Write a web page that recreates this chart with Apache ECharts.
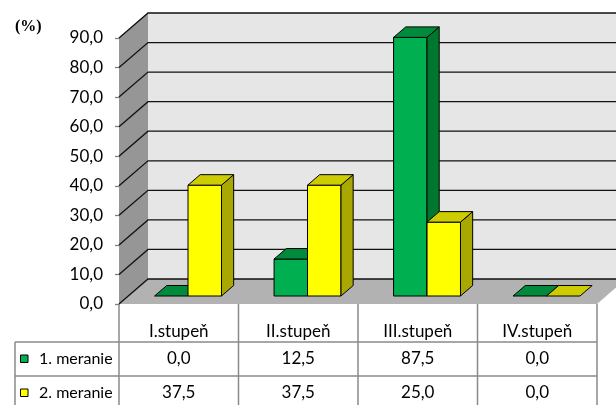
<!DOCTYPE html>
<html>
<head>
<meta charset="utf-8">
<script src="https://cdn.jsdelivr.net/npm/echarts@6/dist/echarts.min.js"></script>
<style>
  html, body { margin: 0; padding: 0; background: #ffffff; }
  #chart { width: 616px; height: 405px; }
</style>
</head>
<body>
<div id="chart"></div>
<script>
// Data
const categories = ['I.stupeň', 'II.stupeň', 'III.stupeň', 'IV.stupeň'];
const seriesNames = ['1. meranie', '2. meranie'];
const meranie1 = [0.0, 12.5, 87.5, 0.0];
const meranie2 = [37.5, 37.5, 25.0, 0.0];
const yTicks = [0, 10, 20, 30, 40, 50, 60, 70, 80, 90];
const yUnit = '(%)';

// Styling / 3D projection settings
const FONT = 'Lato';
const FS = 17;
const WALL_DX = 29, WALL_DY = -25;      // depth of the walls in pixels
const BAR_F0 = 0.32, BAR_F1 = 0.74;     // front/back depth fraction of the bars
const BAR_W = 0.28;                     // bar width as a fraction of the category band
const faces = [
  { front: '#00b050', top: '#008a3c', side: '#00772f' },
  { front: '#ffff00', top: '#cccc00', side: '#a8a800' }
];
const seriesData = [meranie1, meranie2];

const fmt = v => v.toFixed(1).replace('.', ',');

// Back wall, side wall, floor and gridlines
function renderWalls(params, api) {
  const cs = params.coordSys;
  const L = cs.x, R = cs.x + cs.width, T = cs.y, B = cs.y + cs.height;
  const children = [
    { type: 'polygon', shape: { points: [[L + WALL_DX, T + WALL_DY], [R + WALL_DX + 40, T + WALL_DY], [R + WALL_DX + 40, B + WALL_DY], [L + WALL_DX, B + WALL_DY]] },
      style: { fill: '#e6e6e6', stroke: null } },
    { type: 'polygon', shape: { points: [[L, T], [L + WALL_DX, T + WALL_DY], [L + WALL_DX, B + WALL_DY], [L, B]] },
      style: { fill: '#969696', stroke: null } },
    { type: 'polygon', shape: { points: [[L, B], [L + WALL_DX, B + WALL_DY], [R + WALL_DX, B + WALL_DY], [R, B]] },
      style: { fill: '#b2b2b2', stroke: null } }
  ];
  yTicks.forEach(t => {
    const y = api.coord([0, t])[1];
    children.push({
      type: 'polyline',
      shape: { points: [[L, y], [L + WALL_DX, y + WALL_DY], [R + WALL_DX + 40, y + WALL_DY]] },
      style: { stroke: '#111111', lineWidth: 1.3, fill: null }
    });
  });
  return { type: 'group', children: children };
}

// 3D column: front, top and side faces
function makeBarRenderer(k) {
  const col = faces[k];
  return function (params, api) {
    const cat = api.value(0), v = api.value(1);
    const base = api.coord([cat, 0]);
    const topP = api.coord([cat, v]);
    const band = api.size([1, 0])[0];
    const w = band * BAR_W;
    const ax = WALL_DX * BAR_F0, ay = WALL_DY * BAR_F0;
    const dx = WALL_DX * (BAR_F1 - BAR_F0), dy = WALL_DY * (BAR_F1 - BAR_F0);
    const X0 = base[0] + (k === 0 ? -w : 0) + ax;
    const X1 = X0 + w;
    const yb = base[1] + ay, yt = topP[1] + ay;
    const stroke = { stroke: '#000000', lineWidth: 1, lineJoin: 'round' };
    const children = [];
    if (yb - yt > 0.5) {
      children.push({ type: 'polygon', shape: { points: [[X0, yt], [X1, yt], [X1, yb], [X0, yb]] },
        style: Object.assign({ fill: col.front }, stroke) });
      children.push({ type: 'polygon', shape: { points: [[X1, yt], [X1 + dx, yt + dy], [X1 + dx, yb + dy], [X1, yb]] },
        style: Object.assign({ fill: col.side }, stroke) });
    }
    children.push({ type: 'polygon', shape: { points: [[X0, yt], [X0 + dx, yt + dy], [X1 + dx, yt + dy], [X1, yt]] },
      style: Object.assign({ fill: col.top }, stroke) });
    return { type: 'group', children: children };
  };
}

const chart = echarts.init(document.getElementById('chart'), null, { renderer: 'canvas' });

const option = {
  animation: false,
  backgroundColor: '#ffffff',
  grid: { left: 119, right: 19, top: 38, bottom: 101 },
  xAxis: {
    type: 'category',
    data: categories,
    axisLine: { show: false },
    axisTick: { show: false },
    axisLabel: { margin: 19, fontFamily: FONT, fontSize: FS, color: '#000000' }
  },
  yAxis: {
    type: 'value',
    min: 0, max: 90, interval: 10,
    splitLine: { show: false },
    axisLine: { show: false },
    axisTick: { show: true, length: 4, lineStyle: { color: '#7f7f7f', width: 1.3 } },
    axisLabel: {
      margin: 16, fontFamily: FONT, fontSize: FS, color: '#000000',
      padding: [4, 0, 0, 0],
      formatter: v => fmt(v)
    }
  },
  series: [
    { type: 'custom', name: 'walls', renderItem: renderWalls, data: [[0, 0]], z: 1, silent: true },
    { type: 'custom', name: seriesNames[0], renderItem: makeBarRenderer(0),
      data: meranie1.map((v, i) => [i, v]), z: 2 },
    { type: 'custom', name: seriesNames[1], renderItem: makeBarRenderer(1),
      data: meranie2.map((v, i) => [i, v]), z: 3 }
  ]
};
chart.setOption(option);

// Data table below the plot
const centers = categories.map((c, i) => chart.convertToPixel({ xAxisIndex: 0 }, i));
const band = centers[1] - centers[0];
const floorY = chart.convertToPixel({ yAxisIndex: 0 }, 0);
const leftX = centers[0] - band / 2;
const rightX = centers[centers.length - 1] + band / 2;
const legendX = 15;
const headerBottom = floorY + 38;
const rowH = 34;
const lineStyle = { stroke: '#8a8a8a', lineWidth: 1.5 };

const g = [];
// vertical lines
for (let i = 0; i <= categories.length; i++) {
  const x = leftX + i * band;
  g.push({ type: 'line', shape: { x1: x, y1: floorY, x2: x, y2: 420 }, style: lineStyle });
}
g.push({ type: 'line', shape: { x1: legendX, y1: headerBottom, x2: legendX, y2: 420 }, style: lineStyle });
// horizontal lines
for (let r = 0; r < seriesNames.length; r++) {
  const y = headerBottom + r * rowH;
  g.push({ type: 'line', shape: { x1: legendX, y1: y, x2: rightX, y2: y }, style: lineStyle });
}
// rows: legend key, series name, values
seriesNames.forEach((name, r) => {
  const cy = headerBottom + r * rowH + rowH / 2;
  g.push({ type: 'rect', shape: { x: 20.5, y: cy - 4, width: 7.5, height: 7.5 },
    style: { fill: faces[r].front, stroke: '#000000', lineWidth: 1 } });
  g.push({ type: 'text', x: 39, y: cy,
    style: { text: name, fontFamily: FONT, fontSize: 16, fill: '#000000', align: 'left', verticalAlign: 'middle' } });
  seriesData[r].forEach((v, i) => {
    g.push({ type: 'text', x: centers[i], y: cy,
      style: { text: fmt(v), fontFamily: FONT, fontSize: FS, fill: '#000000', align: 'center', verticalAlign: 'middle' } });
  });
});
// unit label
g.push({ type: 'text', x: 15, y: 27,
  style: { text: yUnit, fontFamily: 'Liberation Serif', fontWeight: 'bold', fontSize: 16, fill: '#000000', align: 'left', verticalAlign: 'middle' } });

chart.setOption({ graphic: { elements: g } });
</script>
</body>
</html>
